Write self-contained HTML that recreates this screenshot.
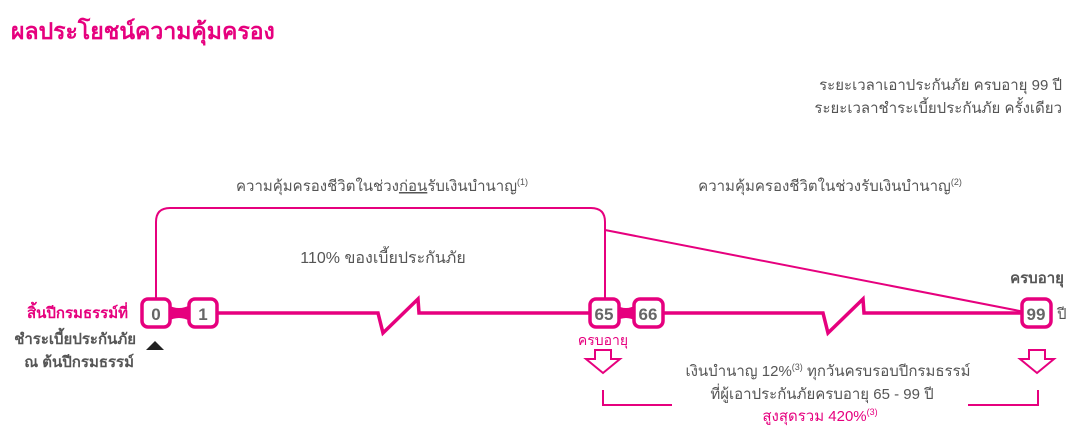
<!DOCTYPE html>
<html><head><meta charset="utf-8"><style>
body{margin:0;background:#fff;width:1081px;height:438px;overflow:hidden}
svg text{font-family:"Liberation Sans","Noto Sans CJK SC","WenQuanYi Zen Hei",sans-serif}
</style></head><body>
<svg width="1081" height="438" viewBox="0 0 1081 438" xmlns="http://www.w3.org/2000/svg">
<text x="11" y="39" font-size="23" font-weight="bold" fill="#e6007e">ผลประโยชน์ความคุ้มครอง</text>
<g font-size="15" fill="#555" text-anchor="end">
<text x="1062" y="90">ระยะเวลาเอาประกันภัย  ครบอายุ 99 ปี</text>
<text x="1062" y="113">ระยะเวลาชำระเบี้ยประกันภัย  ครั้งเดียว</text>
</g>
<g font-size="15" fill="#555" text-anchor="middle">
<text x="382" y="191">ความคุ้มครองชีวิตในช่วง<tspan text-decoration="underline">ก่อน</tspan>รับเงินบำนาญ<tspan font-size="9" dy="-6">(1)</tspan></text>
<text x="830" y="191">ความคุ้มครองชีวิตในช่วงรับเงินบำนาญ<tspan font-size="9" dy="-6">(2)</tspan></text>
<text x="383" y="263" font-size="16">110% ของเบี้ยประกันภัย</text>
<text x="1037" y="283" font-weight="bold" font-size="15">ครบอายุ</text>
</g>
<g fill="none" stroke="#e6007e">
<path d="M156 299 V222 Q156 208 170 208 H591 Q605 208 605 222 V299" stroke-width="2"/>
<path d="M605 230 L1025 312" stroke-width="2"/>
<path d="M171 313 H188 M218 313 H378 L383 333 L418 299 L419 313 H589 M663 313 H823 L828 333 L863 299 L864 313 H1021" stroke-width="3.5" stroke-linejoin="miter"/>
<path d="M603 390 V405 H672 M968 405 H1038 V390" stroke-width="2"/>
<path d="M595 350 H611 V359 H620 L603 373 L586 359 H595 Z" stroke-width="2"/>
<path d="M1029 350 H1045 V359 H1054 L1037 373 L1020 359 H1029 Z" stroke-width="2"/>
</g>
<path d="M168 305 Q179 311 190 305 V321 Q179 315 168 321Z M616 305 Q626 311 636 305 V321 Q626 315 616 321Z" fill="#e6007e"/>
<g fill="#fff" stroke="#e6007e" stroke-width="3.5">
<rect x="142" y="299" width="28" height="28" rx="6"/>
<rect x="189" y="299" width="28" height="28" rx="6"/>
<rect x="590" y="299" width="29" height="28" rx="6"/>
<rect x="634" y="299" width="29" height="28" rx="6"/>
<rect x="1022" y="299" width="29" height="28" rx="6"/>
</g>
<g font-size="17" font-weight="bold" fill="#666" text-anchor="middle">
<text x="156" y="320">0</text><text x="203" y="320">1</text>
<text x="604" y="320">65</text><text x="648" y="320">66</text>
<text x="1036" y="320">99</text>
</g>
<text x="1057" y="319" font-size="15" fill="#555">ปี</text>
<path d="M146 350 L155 341 L164 350Z" fill="#222"/>
<g text-anchor="end" font-size="15" font-weight="bold">
<text x="128" y="318" fill="#e6007e">สิ้นปีกรมธรรม์ที่</text>
<text x="136" y="344" fill="#555">ชำระเบี้ยประกันภัย</text>
<text x="134" y="367" fill="#555">ณ ต้นปีกรมธรรม์</text>
</g>
<text x="603" y="345" font-size="14" fill="#e6007e" text-anchor="middle">ครบอายุ</text>
<g text-anchor="middle" font-size="15" fill="#555">
<text x="828" y="376">เงินบำนาญ 12%<tspan font-size="9" dy="-6">(3)</tspan><tspan dy="6"> ทุกวันครบรอบปีกรมธรรม์</tspan></text>
<text x="822" y="399">ที่ผู้เอาประกันภัยครบอายุ 65 - 99 ปี</text>
<text x="820" y="421" fill="#e6007e">สูงสุดรวม 420%<tspan font-size="9" dy="-6">(3)</tspan></text>
</g>
</svg>
</body></html>
